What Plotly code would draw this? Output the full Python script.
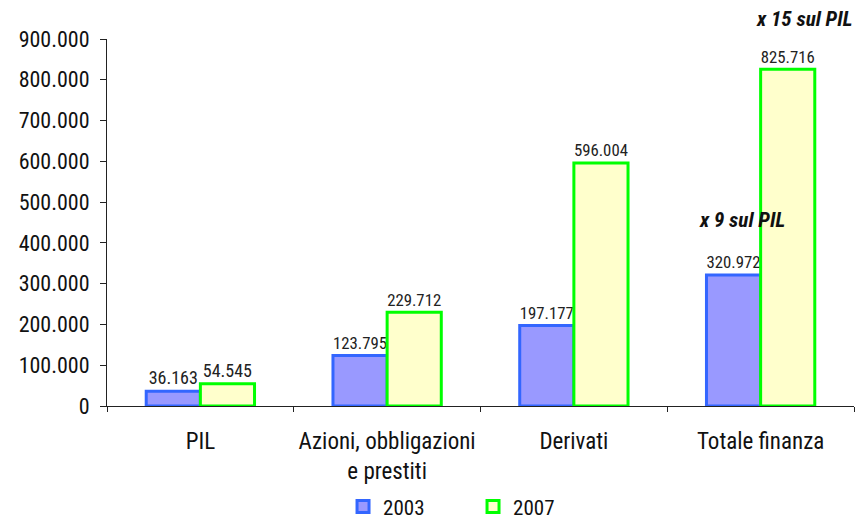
import plotly.graph_objects as go

categorie = ["PIL", "Azioni, obbligazioni<br>e prestiti", "Derivati", "Totale finanza"]
valori_2003 = [36163, 123795, 197177, 320972]
valori_2007 = [54545, 229712, 596004, 825716]
etichette_2003 = ["36.163", "123.795", "197.177", "320.972"]
etichette_2007 = ["54.545", "229.712", "596.004", "825.716"]

font_base = "Liberation Sans Narrow, Arial Narrow, Roboto Condensed, Liberation Sans, Arial, sans-serif"

fig = go.Figure()
fig.add_trace(go.Bar(
    x=categorie, y=valori_2003, name="2003",
    marker=dict(color="#9999FF", line=dict(color="#3366FF", width=3)),
    text=etichette_2003, textposition="outside", cliponaxis=False,
    textfont=dict(size=18, color="#222222"),
))
fig.add_trace(go.Bar(
    x=categorie, y=valori_2007, name="2007",
    marker=dict(color="#FFFFCC", line=dict(color="#00FF00", width=3)),
    text=etichette_2007, textposition="outside", cliponaxis=False,
    textfont=dict(size=18, color="#222222"),
))

fig.update_layout(
    width=863, height=523,
    margin=dict(l=99, r=17, t=31, b=125, autoexpand=False),
    barmode="group", bargap=0.42, bargroupgap=0,
    plot_bgcolor="white", paper_bgcolor="white",
    separators=",.",
    font=dict(family=font_base, size=21, color="#111111"),
    legend=dict(orientation="h", x=0.49, xanchor="center", y=-0.275, yanchor="middle",
                font=dict(size=21), traceorder="normal", entrywidth=85),
)
fig.update_xaxes(
    showline=True, linecolor="#222222", linewidth=1,
    ticks="outside", tickson="boundaries", ticklen=5, tickcolor="#222222",
    tickfont=dict(size=23), ticklabelstandoff=14,
)
fig.update_yaxes(
    range=[0, 900000], dtick=100000, tickformat=",d",
    showline=True, linecolor="#222222", linewidth=1,
    ticks="outside", ticklen=6, tickcolor="#222222",
    showgrid=False, zeroline=False,
    tickfont=dict(size=22), ticklabelstandoff=6,
)

fig.add_annotation(text="<b><i>x 15 sul PIL</i></b>", xref="paper", yref="paper",
                   x=1.0, y=1.0, xanchor="right", yanchor="bottom", yshift=6,
                   showarrow=False, font=dict(size=21))
fig.add_annotation(text="<b><i>x 9 sul PIL</i></b>", xref="paper", yref="y",
                   x=0.85, y=455000, xanchor="center", yanchor="middle",
                   showarrow=False, font=dict(size=21))

fig.write_html("out.html")
